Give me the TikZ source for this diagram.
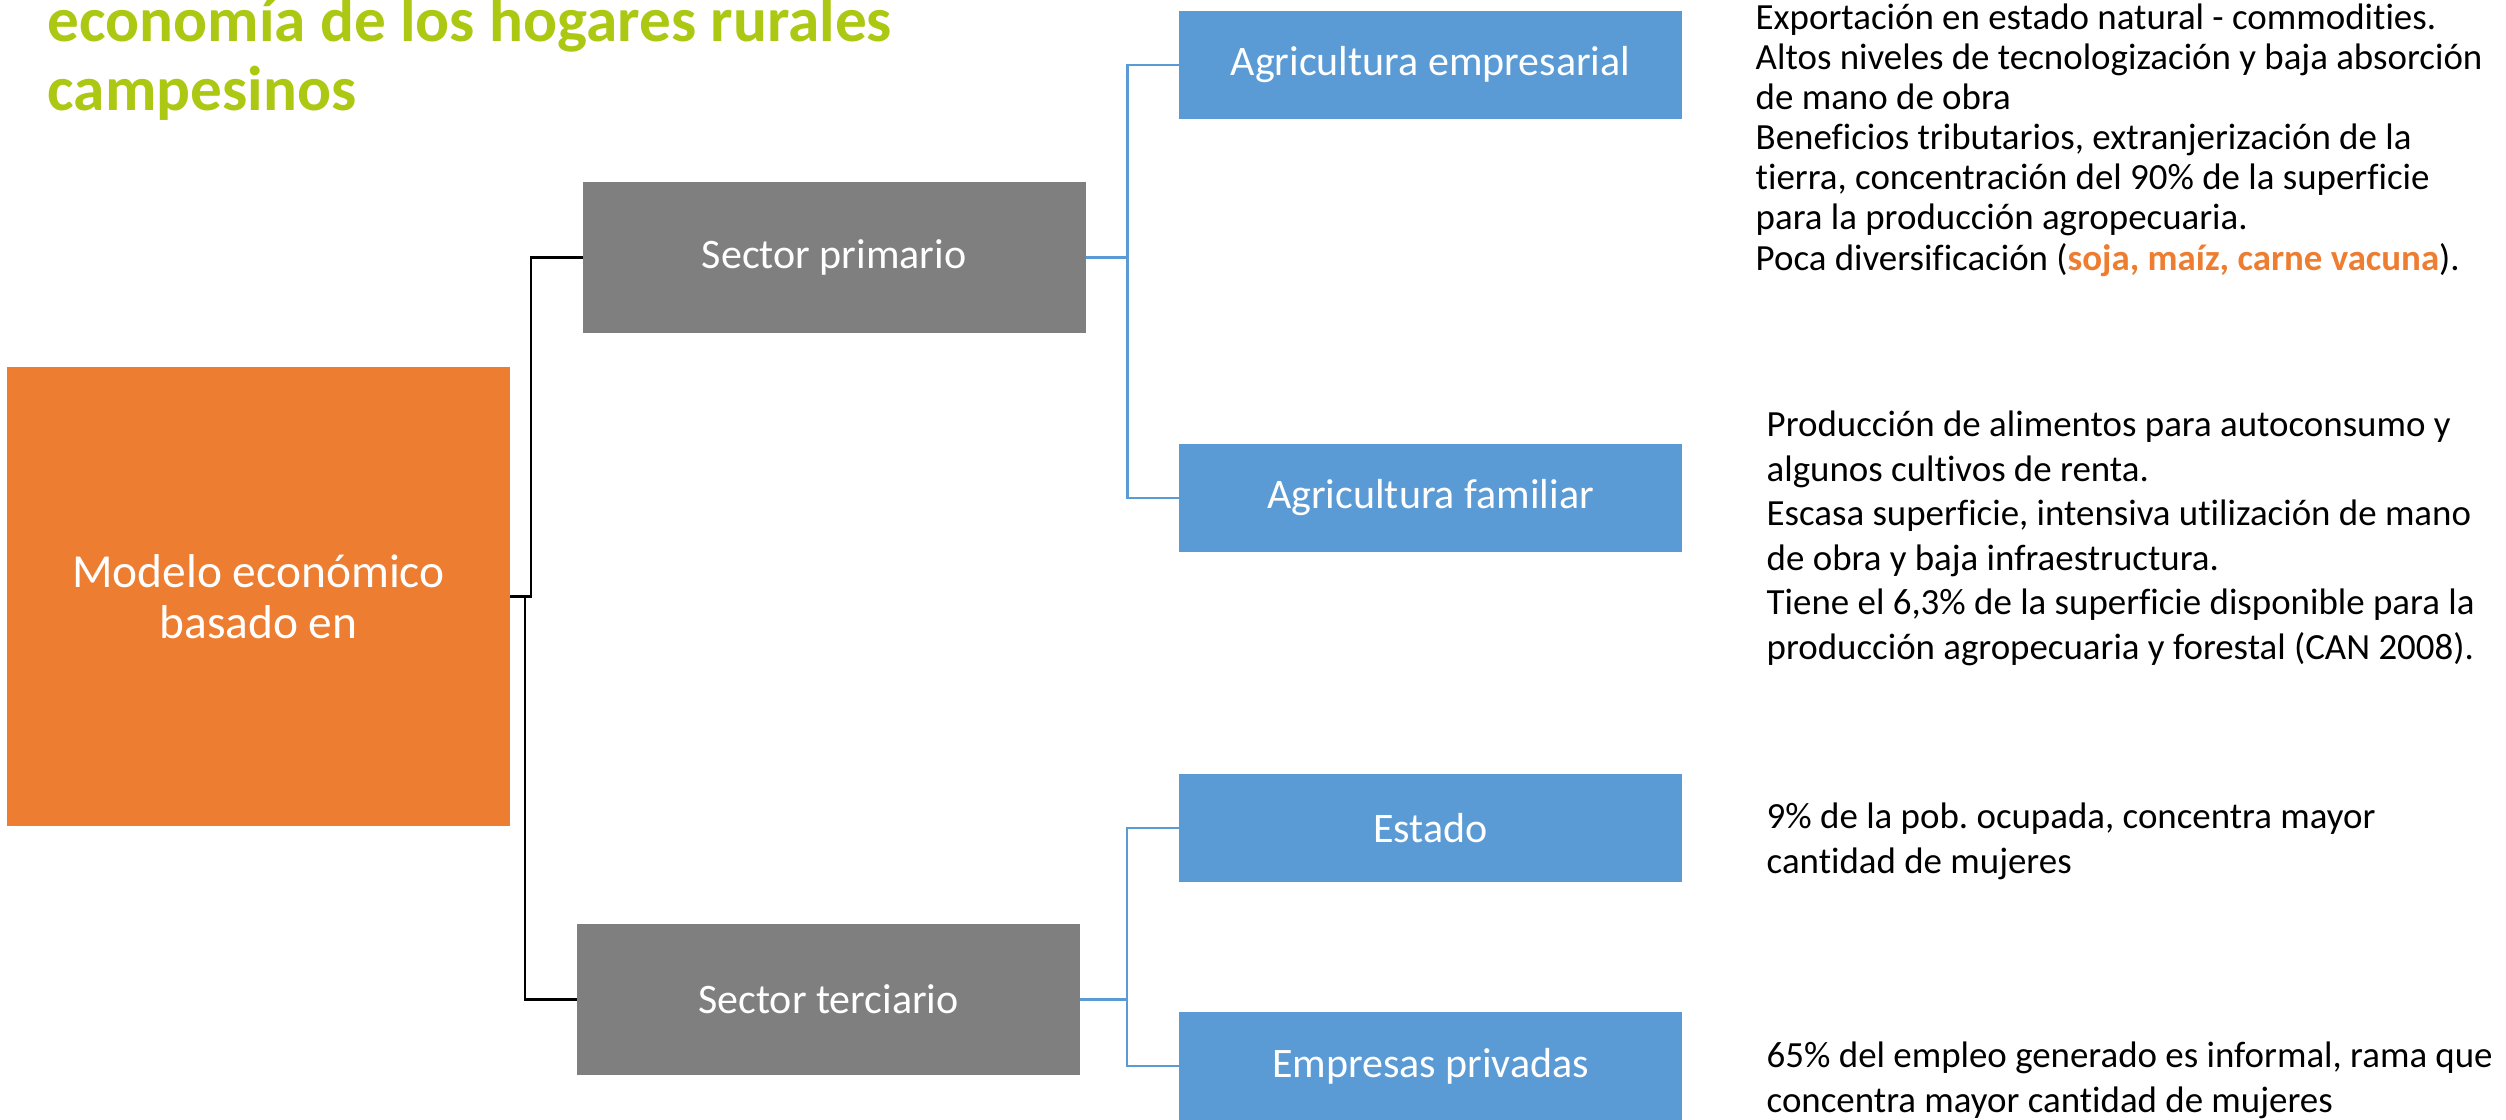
\documentclass[tikz,border=0pt]{standalone}
\usepackage{fontspec}
\setmainfont{Carlito}[Ligatures=NoCommon]
\usetikzlibrary{positioning}
\frenchspacing
\definecolor{modelorange}{HTML}{ED7D31}
\definecolor{sectorgray}{HTML}{7F7F7F}
\definecolor{ramablue}{HTML}{5B9BD5}
\definecolor{titlegreen}{RGB}{172,200,18}
\tikzset{%
   caja/.style={rectangle, inner sep=0mm, outer sep=0mm, text=white, align=center},
   sector/.style={caja, fill=sectorgray, minimum width=5.03cm, minimum height=1.51cm, font=\fontsize{11.95}{14}\selectfont},
   rama/.style={caja, fill=ramablue, minimum width=5.03cm, minimum height=1.08cm, font=\fontsize{11.95}{14}\selectfont},
   nota/.style={anchor=base west, inner sep=0mm, align=left, font=\fontsize{10.5}{12.66}\selectfont},
   conector/.style={draw=black, line width=0.6pt},
   ramal/.style={draw=ramablue, line width=0.6pt},
}
\begin{document}
\begin{tikzpicture}
      \useasboundingbox (0,0) rectangle (25.06,-11.19);
      % el ancla base queda en la ultima linea
      \node[anchor=base west, inner sep=0mm, align=left, text=titlegreen, font=\fontsize{18}{19.6}\selectfont\bfseries] (titulo) at (0.47,-1.10) {economía de los hogares rurales\\campesinos};
      \node[caja, fill=modelorange, minimum width=5.03cm, minimum height=4.59cm, font=\fontsize{13.5}{14.5}\selectfont] (modelo) at (2.585,-5.965) {Modelo económico\\basado en};
      \node[sector] (primario) at (8.34,-2.575) {Sector primario};
      \node[sector] (terciario) at (8.285,-9.995) {Sector terciario};
      \node[rama] (agremp) at (14.305,-0.65) {Agricultura empresarial};
      \node[rama] (agrfam) at (14.305,-4.98) {Agricultura familiar};
      \node[rama] (estado) at (14.305,-8.28) {Estado};
      \node[rama] (privadas) at (14.305,-10.66) {Empresas privadas};
      \draw[conector] (modelo.east) -- ++(0.21,0) |- (primario.west);
      \draw[conector] (modelo.east) -- ++(0.15,0) |- (terciario.west);
      \draw[ramal] (primario.east) -- ++(0.42,0) |- (agremp.west);
      \draw[ramal] (primario.east) -- ++(0.42,0) |- (agrfam.west);
      \draw[ramal] (terciario.east) -- ++(0.47,0) |- (estado.west);
      \draw[ramal] (terciario.east) -- ++(0.47,0) |- (privadas.west);
      % textos de cada rama
      \node[nota, font=\fontsize{10.5}{11.4}\selectfont] (notaemp) at (17.55,-2.70) {Exportación en estado natural - commodities.\\Altos niveles de tecnologización y baja absorción\\de mano de obra\\Beneficios tributarios, extranjerización de la\\tierra, concentración del 90\% de la superficie\\para la producción agropecuaria.\\Poca diversificación ({\color{modelorange}\bfseries soja, maíz, carne vacuna}).};
      \node[nota] (notafam) at (17.66,-6.59) {Producción de alimentos para autoconsumo y\\algunos cultivos de renta.\\Escasa superficie, intensiva utilización de mano\\de obra y baja infraestructura.\\Tiene el 6,3\% de la superficie disponible para la\\producción agropecuaria y forestal (CAN 2008).};
      \node[nota] (notaestado) at (17.66,-8.73) {9\% de la pob. ocupada, concentra mayor\\cantidad de mujeres};
      \node[nota] (notapriv) at (17.66,-11.12) {65\% del empleo generado es informal, rama que\\concentra mayor cantidad de mujeres};
   \end{tikzpicture}
\end{document}
